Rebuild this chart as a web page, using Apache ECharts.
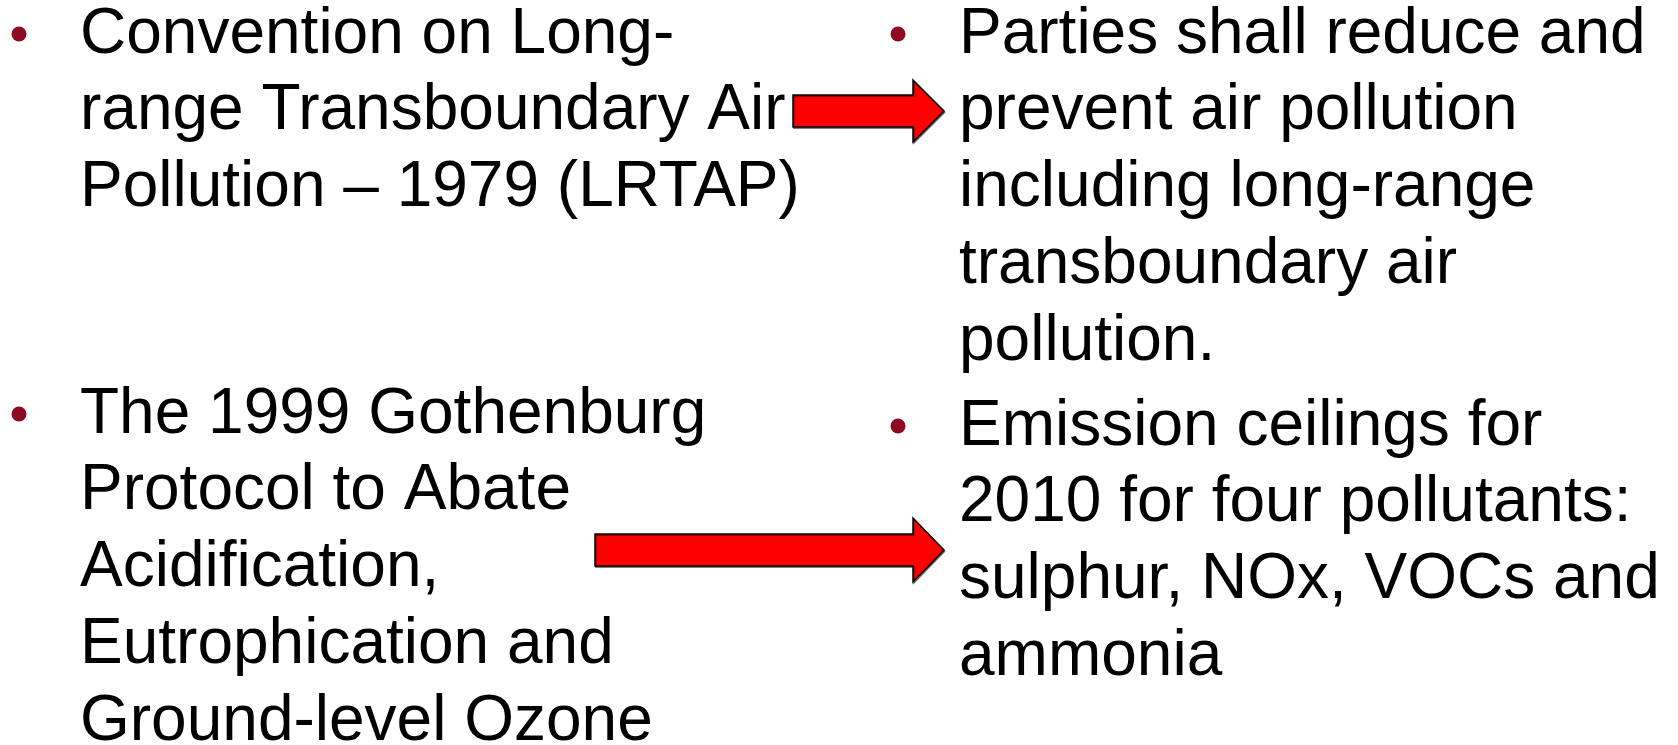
<!DOCTYPE html>
<html>
<head>
<meta charset="utf-8">
<script src="https://cdn.jsdelivr.net/npm/echarts@6/dist/echarts.min.js"></script>
<style>
html,body{margin:0;padding:0;background:#fff;}
#main{width:1678px;height:745px;}
</style>
</head>
<body>
<div id="main"></div>
<script>
// Slide content
var leftBullet1 = ["Convention on Long-", "range Transboundary Air", "Pollution \u2013 1979 (LRTAP)"];
var leftBullet2 = ["The 1999 Gothenburg", "Protocol to Abate", "Acidification,", "Eutrophication and", "Ground-level Ozone"];
var rightBullet1 = ["Parties shall reduce and", "prevent air pollution", "including long-range", "transboundary air", "pollution."];
var rightBullet2 = ["Emission ceilings for", "2010 for four pollutants:", "sulphur, NOx, VOCs and", "ammonia"];

var FONT = 'Liberation Sans, Arial, sans-serif';
var FS = 64;
var LH = 76.8;
var BULLET_COLOR = '#8E0A22';

var elements = [];

function addParagraph(lines, textX, bulletX, firstBaseline) {
  elements.push({
    type: 'circle',
    shape: { cx: bulletX, cy: firstBaseline - 23, r: 7.5 },
    style: { fill: BULLET_COLOR }
  });
  lines.forEach(function (t, i) {
    elements.push({
      type: 'text',
      x: textX,
      y: firstBaseline + i * LH - 22,
      style: {
        text: t,
        font: FS + 'px ' + FONT,
        fill: '#000',
        align: 'left',
        verticalAlign: 'middle'
      }
    });
  });
}

addParagraph(leftBullet1, 80, 19, 57);
addParagraph(leftBullet2, 80, 19, 437);
addParagraph(rightBullet1, 959, 898, 57);
addParagraph(rightBullet2, 959, 898, 449);

function arrow(x0, xHead, xTip, yMid, shaftHalf, headHalf) {
  return {
    type: 'polygon',
    shape: {
      points: [
        [x0, yMid - shaftHalf], [xHead, yMid - shaftHalf], [xHead, yMid - headHalf],
        [xTip, yMid], [xHead, yMid + headHalf], [xHead, yMid + shaftHalf], [x0, yMid + shaftHalf]
      ]
    },
    style: {
      fill: '#FF0000',
      stroke: '#000',
      lineWidth: 1.5,
      lineJoin: 'miter',
      shadowColor: 'rgba(0,0,0,0.45)',
      shadowOffsetX: 0.8,
      shadowOffsetY: 1.2,
      shadowBlur: 0
    }
  };
}

elements.push(arrow(793, 913, 944, 111, 16, 31));
elements.push(arrow(595, 913, 944, 550, 16, 32));

var chart = echarts.init(document.getElementById('main'), null, { renderer: 'canvas' });
chart.setOption({
  backgroundColor: '#ffffff',
  animation: false,
  graphic: { elements: elements }
});
</script>
</body>
</html>
